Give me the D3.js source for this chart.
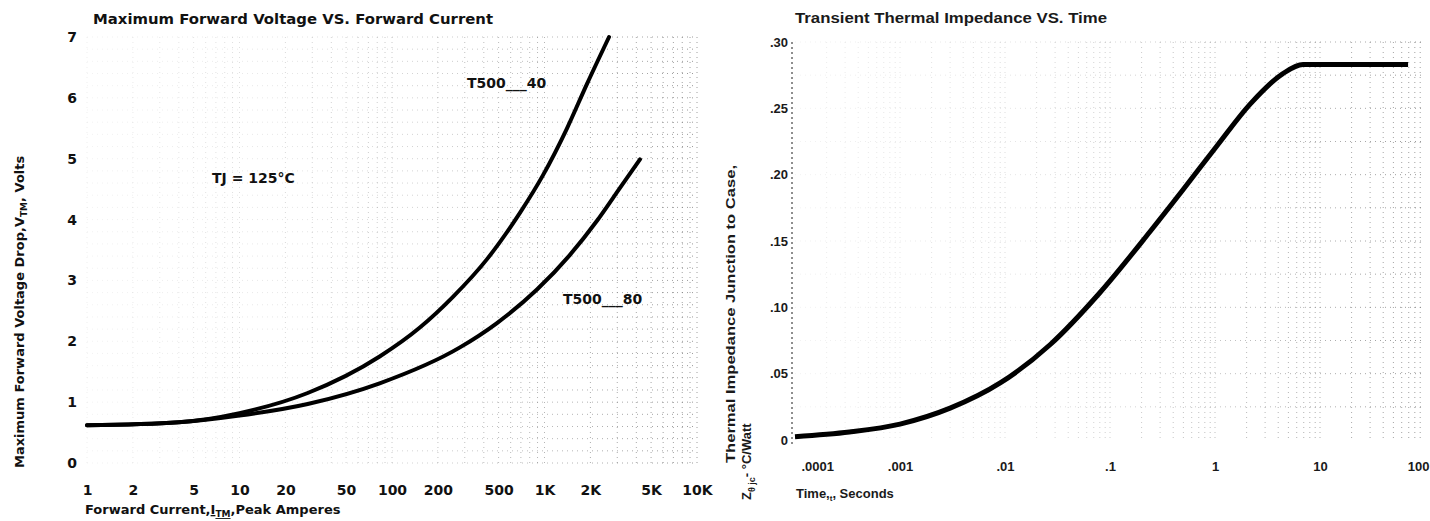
<!DOCTYPE html>
<html>
<head>
<meta charset="utf-8">
<script src="https://cdn.jsdelivr.net/npm/d3@7"></script>
<style>
  body { margin: 0; background: #fff; }
  svg { display: block; }
  .heavy { font-family: "DejaVu Sans", sans-serif; font-weight: bold; fill: #111; }
  .med { font-family: "Liberation Sans", Arial, sans-serif; font-weight: bold; fill: #1a1a1a; }
</style>
</head>
<body>
<div id="chart"></div>
<script>
// left chart: forward voltage vs forward current
const currentTicks = [1, 2, 5, 10, 20, 50, 100, 200, 500, 1000, 2000, 5000, 10000];
const currentLabels = ["1", "2", "5", "10", "20", "50", "100", "200", "500", "1K", "2K", "5K", "10K"];
const voltTicks = [0, 1, 2, 3, 4, 5, 6, 7];

const current40 = [1, 4, 10, 28, 83, 153, 251, 420, 690, 978, 1405, 1900, 2650];
const volts40 = [0.62, 0.67, 0.82, 1.15, 1.75, 2.23, 2.73, 3.35, 4.11, 4.73, 5.5, 6.23, 7.0];
const current80 = [1, 4, 10, 28, 83, 279, 488, 893, 1469, 2209, 3126, 4227];
const volts80 = [0.62, 0.67, 0.78, 0.97, 1.31, 1.9, 2.3, 2.85, 3.42, 3.98, 4.52, 4.99];

// right chart: transient thermal impedance vs time
const timeTicks = [1e-4, 1e-3, 1e-2, 1e-1, 1, 10, 100];
const timeLabels = [".0001", ".001", ".01", ".1", "1", "10", "100"];
const zTicks = [0, 0.05, 0.10, 0.15, 0.20, 0.25, 0.30];

const timeS = [1e-4, 3.3e-4, 1e-3, 3e-3, 9e-3, 2.7e-2, 8e-2, 0.24, 0.5, 1.05, 2.15, 4.4, 6.9, 69];
const zthjc = [0.0025, 0.006, 0.012, 0.024, 0.043, 0.072, 0.111, 0.157, 0.189, 0.222, 0.253, 0.276, 0.283, 0.283];

const svg = d3.select("#chart").append("svg")
  .attr("width", 1430)
  .attr("height", 521);

const defs = svg.append("defs");
function fadeGradient(id, x1, x2) {
  const g = defs.append("linearGradient").attr("id", id)
    .attr("gradientUnits", "userSpaceOnUse")
    .attr("x1", x1).attr("x2", x2).attr("y1", 0).attr("y2", 0);
  g.append("stop").attr("offset", "0%").attr("stop-color", "#999").attr("stop-opacity", 0.12);
  g.append("stop").attr("offset", "35%").attr("stop-color", "#999").attr("stop-opacity", 0.25);
  g.append("stop").attr("offset", "100%").attr("stop-color", "#777").attr("stop-opacity", 0.75);
}
fadeGradient("fadeL", 87, 697);
fadeGradient("fadeR", 795, 1425);

// ---------- left chart ----------
const x = d3.scaleLog().domain([1, 10000]).range([87, 697]);
const y = d3.scaleLinear().domain([0, 7]).range([463, 37]);
const fadeL = d3.scaleLinear().domain([87, 280, 697]).range([0.12, 0.3, 0.8]).clamp(true);

// faint scanned grid
const xMinor = [];
for (let d = 1; d < 10000; d *= 10) for (let k = 1; k < 10; k++) xMinor.push(k * d);
xMinor.push(10000);
const left = svg.append("g");
left.selectAll(".gv").data(xMinor).enter().append("line")
  .attr("x1", d => x(d)).attr("x2", d => x(d))
  .attr("y1", y(7)).attr("y2", y(0))
  .attr("stroke", "#888").attr("stroke-width", 1)
  .attr("stroke-dasharray", "1 4").attr("opacity", d => fadeL(x(d)));
left.selectAll(".gh").data(d3.range(0, 7.01, 0.2)).enter().append("line")
  .attr("x1", x(1)).attr("x2", x(10000))
  .attr("y1", d => y(d)).attr("y2", d => y(d))
  .attr("stroke", "url(#fadeL)").attr("stroke-width", 1)
  .attr("stroke-dasharray", "1 4");

const xAxis = d3.axisBottom(x).tickValues(currentTicks)
  .tickFormat((d, i) => currentLabels[i]).tickSize(0).tickPadding(22);
const xg = svg.append("g").attr("transform", `translate(0,${y(0)})`).call(xAxis);
xg.select(".domain").remove();
xg.selectAll("text").attr("class", "heavy").style("font-size", "14px");

const yAxis = d3.axisLeft(y).tickValues(voltTicks).tickSize(0).tickPadding(10)
  .tickFormat(d3.format("d"));
const yg = svg.append("g").attr("transform", `translate(${x(1)},0)`).call(yAxis);
yg.select(".domain").remove();
yg.selectAll("text").attr("class", "heavy").style("font-size", "14px");

const line = d3.line()
  .x(d => x(d[0]))
  .y(d => y(d[1]))
  .curve(d3.curveMonotoneX);

[d3.zip(current40, volts40), d3.zip(current80, volts80)].forEach(s => {
  svg.append("path")
    .attr("d", line(s))
    .attr("fill", "none")
    .attr("stroke", "#000")
    .attr("stroke-width", 4)
    .attr("stroke-linecap", "round");
});

svg.append("text").attr("class", "heavy")
  .attr("x", 93).attr("y", 24)
  .style("font-size", "14.5px")
  .attr("textLength", 400).attr("lengthAdjust", "spacingAndGlyphs")
  .text("Maximum Forward Voltage VS. Forward Current");

svg.append("text").attr("class", "heavy")
  .attr("x", 467).attr("y", 88).style("font-size", "14px")
  .text("T500___40");
svg.append("text").attr("class", "heavy")
  .attr("x", 563).attr("y", 304).style("font-size", "14px")
  .text("T500___80");
svg.append("text").attr("class", "heavy")
  .attr("x", 212).attr("y", 183).style("font-size", "14px")
  .text("TJ = 125°C");

const xt = svg.append("text").attr("class", "heavy")
  .attr("x", 85).attr("y", 514).style("font-size", "13px");
xt.append("tspan").text("Forward Current,");
xt.append("tspan").text("I").style("text-decoration", "underline");
xt.append("tspan").text("TM").attr("dy", 3).style("font-size", "9px").style("text-decoration", "underline");
xt.append("tspan").text(",Peak Amperes").attr("dy", -3);

const yt = svg.append("text").attr("class", "heavy")
  .attr("transform", "translate(24,468) rotate(-90)")
  .style("font-size", "13px");
yt.append("tspan").text("Maximum Forward Voltage Drop,V");
yt.append("tspan").text("TM").attr("dy", 3).style("font-size", "9px");
yt.append("tspan").text(", Volts").attr("dy", -3);

// ---------- right chart ----------
const x2 = d3.scaleLog().domain([1e-4, 100]).range([795, 1425]);
const y2 = d3.scaleLinear().domain([0, 0.3]).range([440, 42]);
const fadeR = d3.scaleLinear().domain([795, 1040, 1425]).range([0.12, 0.3, 0.8]).clamp(true);

const tMinor = [];
for (let d = 1e-4; d < 99; d *= 10) for (let k = 1; k < 10; k++) tMinor.push(k * d);
const right = svg.append("g");
right.selectAll(".gv").data(tMinor.filter(d => d > 1.5e-4)).enter().append("line")
  .attr("x1", d => x2(d)).attr("x2", d => x2(d))
  .attr("y1", y2(0.3)).attr("y2", y2(0))
  .attr("stroke", "#888").attr("stroke-width", 1)
  .attr("stroke-dasharray", "1 4").attr("opacity", d => fadeR(x2(d)));
right.selectAll(".gh").data(d3.range(0.025, 0.301, 0.025)).enter().append("line")
  .attr("x1", x2(1e-4)).attr("x2", 1425)
  .attr("y1", d => y2(d)).attr("y2", d => y2(d))
  .attr("stroke", "url(#fadeR)").attr("stroke-width", 1)
  .attr("stroke-dasharray", "1 4");

// dotted left axis of the right chart
svg.append("line")
  .attr("x1", 792).attr("x2", 792)
  .attr("y1", y2(0.3)).attr("y2", y2(0) + 6)
  .attr("stroke", "#444").attr("stroke-width", 1.2)
  .attr("stroke-dasharray", "2 3");

const x2Axis = d3.axisBottom(x2).tickValues(timeTicks)
  .tickFormat((d, i) => timeLabels[i]).tickSize(0).tickPadding(22);
const x2g = svg.append("g").attr("transform", `translate(0,${y2(0)})`).call(x2Axis);
x2g.select(".domain").remove();
const lastT = timeTicks.length - 1;
x2g.selectAll("text").attr("class", "med").style("font-size", "13px")
  .attr("text-anchor", (d, i) => i === 0 ? "start" : (i === lastT ? "end" : "middle"))
  .attr("dx", (d, i) => i === 0 ? 6 : (i === lastT ? 4 : 0));

const y2Axis = d3.axisLeft(y2).tickValues(zTicks).tickSize(0).tickPadding(4)
  .tickFormat(d => d === 0 ? "0" : d3.format(".2f")(d).replace(/^0/, ""));
const y2g = svg.append("g").attr("transform", "translate(792,0)").call(y2Axis);
y2g.select(".domain").remove();
y2g.selectAll("text").attr("class", "med").style("font-size", "13px");

const line2 = d3.line()
  .x(d => x2(d[0]))
  .y(d => y2(d[1]))
  .curve(d3.curveMonotoneX);

svg.append("path")
  .attr("d", line2(d3.zip(timeS, zthjc)))
  .attr("fill", "none")
  .attr("stroke", "#000")
  .attr("stroke-width", 5)
  .attr("stroke-linecap", "butt");

svg.append("text").attr("class", "med")
  .attr("x", 795).attr("y", 23)
  .style("font-size", "14px")
  .attr("textLength", 312).attr("lengthAdjust", "spacingAndGlyphs")
  .text("Transient Thermal Impedance VS. Time");

const tt = svg.append("text").attr("class", "med")
  .attr("x", 796).attr("y", 498).style("font-size", "13px");
tt.append("tspan").text("Time,");
tt.append("tspan").text("t").attr("dy", 3).style("font-size", "8px");
tt.append("tspan").text(", Seconds").attr("dy", -3);

svg.append("text").attr("class", "med")
  .attr("transform", "translate(735,463) rotate(-90)")
  .style("font-size", "13px")
  .attr("textLength", 298).attr("lengthAdjust", "spacingAndGlyphs")
  .text("Thermal Impedance Junction to Case,");

const zt = svg.append("text").attr("class", "med")
  .attr("transform", "translate(751,500) rotate(-90)")
  .style("font-size", "13px");
zt.append("tspan").text("Z");
zt.append("tspan").text("θ jc").attr("dy", 4).style("font-size", "9px");
zt.append("tspan").text("- °C/Watt").attr("dy", -4);
</script>
</body>
</html>
